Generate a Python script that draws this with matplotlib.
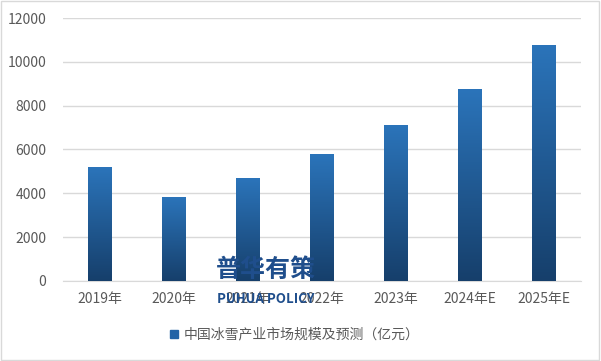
import numpy as np
import matplotlib.pyplot as plt
from matplotlib.colors import LinearSegmentedColormap
from matplotlib.patches import Rectangle

plt.rcParams['font.family'] = ['Noto Sans CJK SC', 'DejaVu Sans']

years = ['2019年', '2020年', '2021年', '2022年', '2023年', '2024年E', '2025年E']
values = [5200, 3830, 4700, 5790, 7120, 8760, 10770]
legend_label = '中国冰雪产业市场规模及预测（亿元）'

fig = plt.figure(figsize=(6.01, 3.61), dpi=100)
ax = fig.add_axes([0.105, 0.222, 0.862, 0.728])

cmap = LinearSegmentedColormap.from_list('bar', ['#163f6b', '#2b74ba'])
grad = np.linspace(0, 1, 256).reshape(-1, 1)
width = 0.32
x = np.arange(len(years))
bars = ax.bar(x, values, width=width, color='none', zorder=3)
for b in bars:
    x0, y0 = b.get_x(), b.get_y()
    w, h = b.get_width(), b.get_height()
    im = ax.imshow(grad, cmap=cmap, aspect='auto', origin='lower',
                   extent=[x0, x0 + w, y0, y0 + h], zorder=3)
    im.set_clip_path(Rectangle((x0, y0), w, h, transform=ax.transData))

ax.set_xlim(-0.5, len(years) - 0.5)
ax.set_ylim(0, 12000)
ax.set_yticks(range(0, 12001, 2000))
ax.set_xticks(x)
ax.set_xticklabels(years)
ax.yaxis.grid(True, color='#d9d9d9', linewidth=1)
ax.set_axisbelow(True)
for s in ['top', 'right', 'left']:
    ax.spines[s].set_visible(False)
ax.spines['bottom'].set_color('#d9d9d9')
ax.tick_params(length=0, labelsize=10, colors='#595959', pad=8)
ax.tick_params(axis='y', pad=12)

# watermark (drawn over the plot, as in the source image)
fig.text(0.442, 0.252, '普华有策', fontsize=18, fontweight='bold',
         color='#1f4e8c', ha='center', va='center', zorder=10)
fig.text(0.442, 0.173, 'PUHUA POLICY', fontsize=9.5, fontweight='bold',
         color='#1f4e8c', ha='center', va='center', zorder=10)

# legend
fig.patches.append(Rectangle((0.283, 0.063), 0.014, 0.023, transform=fig.transFigure,
                             color='#2163a6', figure=fig))
fig.text(0.305, 0.075, legend_label, fontsize=10, color='#595959', va='center')

# frame
fig.patches.append(Rectangle((0.002, 0.003), 0.995, 0.993, transform=fig.transFigure,
                             fill=False, edgecolor='#d9d9d9', linewidth=1, figure=fig))

fig.savefig('out.png', dpi=100)
